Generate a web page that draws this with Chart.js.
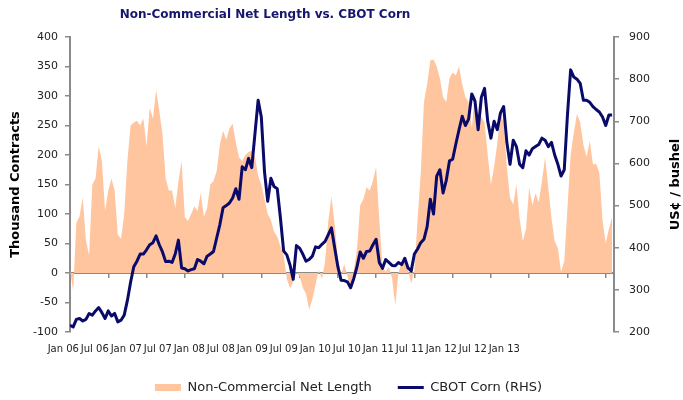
<!DOCTYPE html>
<html>
<head>
<meta charset="utf-8">
<script src="https://cdn.jsdelivr.net/npm/chart.js@4.4.1/dist/chart.umd.min.js"></script>
<style>
  html, body { margin: 0; padding: 0; background: #ffffff; }
  #wrap { width: 683px; height: 400px; position: relative; }
</style>
</head>
<body>
<div id="wrap"><canvas id="c" width="683" height="400"></canvas></div>
<script>
// ---------------- data ----------------
const chartTitle = 'Non-Commercial Net Length vs. CBOT Corn';
const leftAxisTitle = 'Thousand Contracts';
const rightAxisTitle = 'US\u00A2 / bushel';
const seriesNames = ['Non-Commercial Net Length', 'CBOT Corn (RHS)'];
const tickLabels = ['Jan 06', 'Jul 06', 'Jan 07', 'Jul 07', 'Jan 08', 'Jul 08', 'Jan 09', 'Jul 09',
                    'Jan 10', 'Jul 10', 'Jan 11', 'Jul 11', 'Jan 12', 'Jul 12', 'Jan 13'];
// one reading every half month, starting Jan 2006 (x = months since Jan 2006)
const monthsPerPoint = 0.5;
// Non-Commercial Net Length, thousand contracts (left axis)
const netLength = [
  5, -30, 85, 96, 128, 55, 30, 150, 160, 215,
  190, 105, 140, 160, 140, 65, 58, 100, 190, 250,
  255, 258, 250, 262, 215, 280, 262, 310, 275, 235,
  160, 140, 140, 110, 155, 190, 95, 88, 100, 113,
  105, 135, 95, 110, 150, 156, 173, 218, 241, 226,
  245, 253, 222, 196, 190, 200, 205, 207, 198, 165,
  150, 125, 100, 90, 70, 62, 45, 30, -10, -26,
  -15, 0, -5, -25, -35, -62, -45, -20, 5, -10,
  20, 88, 130, 82, 25, -3, 15, -5, -30, 5,
  40, 115, 125, 145, 140, 156, 180, 90, 10, 2,
  10, -9, -55, 0, 18, 20, 5, -18, 5, 90,
  170, 290, 320, 360, 362, 350, 330, 298, 290, 330,
  340, 335, 350, 320, 298, 290, 245, 305, 250, 265,
  255, 200, 150, 180, 220, 270, 255, 180, 127, 116,
  150, 93, 54, 75, 145, 115, 135, 120, 155, 196,
  145, 93, 54, 42, 2, 20, 110, 200, 238, 270,
  255, 218, 196, 224, 184, 185, 170, 90, 50, 75,
  95
];
// CBOT Corn, US cents per bushel (right axis)
const cornPrice = [
  216, 212, 230, 232, 226, 230, 244, 240, 250, 258,
  246, 232, 250, 238, 244, 224, 228, 240, 275, 318,
  355, 368, 385, 385, 395, 407, 412, 428, 407, 390,
  367, 368, 365, 385, 418, 352, 350, 345, 348, 350,
  372, 368, 362, 380, 385, 391, 423, 455, 495, 500,
  506, 518, 540, 515, 592, 585, 612, 590, 670, 750,
  710, 580, 510, 565, 545, 540, 470, 392, 383, 359,
  325, 405, 399, 385, 368, 372, 380, 402, 400, 408,
  415, 431, 447, 400, 355, 323, 322, 319, 305, 327,
  355, 390, 375, 391, 392, 407, 420, 365, 351, 372,
  365, 358, 357, 365, 360, 375, 352, 345, 385, 397,
  412, 420, 450, 515, 480, 570, 585, 530, 560, 606,
  610, 646, 680, 712, 690, 705, 765, 748, 680, 757,
  778, 700, 660, 700, 680, 720, 735, 650, 598, 655,
  640, 598, 590, 630, 620, 635, 640, 645, 660, 655,
  640, 650, 620, 598, 570, 585, 715, 822, 805, 800,
  790, 750, 750, 745, 735, 728, 722, 710, 690, 715,
  715
];

// ---------------- styles ----------------
const AREA_COLOR = 'rgb(255,197,158)';
const LINE_COLOR = '#0a0a6b';
const TITLE_COLOR = '#16166f';
const AXIS_COLOR = '#8a8a8a';
const TEXT_COLOR = '#222222';
const FONT = "'DejaVu Sans', Verdana, sans-serif";
Chart.defaults.font.family = FONT;

// label strip geometry (Excel packs the date labels tightly from the left)
const PLOT_LEFT = 70, PLOT_WIDTH = 544;
const LABEL_FIRST_PX = 63.3, LABEL_STEP_PX = 31.5;
const labelMax = PLOT_WIDTH / LABEL_STEP_PX;
const labelShift = LABEL_FIRST_PX - PLOT_LEFT;

const toPoints = (arr) => arr.map((v, i) => ({ x: i * monthsPerPoint, y: v }));

const extraText = {
  id: 'extraText',
  afterDraw(chart) {
    const ctx = chart.ctx;
    const area = chart.chartArea;
    ctx.save();
    ctx.fillStyle = TITLE_COLOR;
    ctx.font = "bold 12px " + FONT;
    ctx.textAlign = 'center';
    ctx.textBaseline = 'middle';
    ctx.fillText(chartTitle, 265, 15);
    const s = chart.scales.y2;
    ctx.translate(s.left + 62, (area.top + area.bottom) / 2);
    ctx.rotate(-Math.PI / 2);
    ctx.fillStyle = '#000000';
    ctx.font = "bold 13px " + FONT;
    ctx.fillText(rightAxisTitle, 0, 0);
    ctx.restore();
  }
};

new Chart(document.getElementById('c'), {
  type: 'line',
  data: {
    datasets: [
      {
        label: seriesNames[0],
        data: toPoints(netLength),
        xAxisID: 'x', yAxisID: 'y',
        fill: 'origin',
        backgroundColor: AREA_COLOR,
        borderColor: AREA_COLOR,
        borderWidth: 0,
        pointRadius: 0,
        pointStyle: 'rect',
        tension: 0,
        order: 2
      },
      {
        label: seriesNames[1],
        data: toPoints(cornPrice),
        xAxisID: 'x', yAxisID: 'y2',
        fill: false,
        borderColor: LINE_COLOR,
        backgroundColor: LINE_COLOR,
        borderWidth: 3,
        borderJoinStyle: 'round',
        pointRadius: 0,
        pointStyle: 'line',
        tension: 0,
        order: 1
      }
    ]
  },
  options: {
    responsive: false,
    animation: false,
    devicePixelRatio: 1,
    layout: { padding: { top: 37, bottom: -4, left: 14, right: 0 } },
    plugins: {
      title: { display: false },
      tooltip: { enabled: false },
      legend: {
        position: 'bottom',
        labels: {
          usePointStyle: true,
          pointStyleWidth: 26,
          boxHeight: 7,
          padding: 26,
          color: TEXT_COLOR,
          font: { size: 13 },
          sort: (a, b) => a.datasetIndex - b.datasetIndex
        }
      }
    },
    scales: {
      x: {
        type: 'linear',
        position: { y: 0 },
        bounds: 'data',
        min: 0,
        max: 85.3,
        ticks: { display: false, stepSize: 6, includeBounds: false },
        grid: { drawOnChartArea: false, drawTicks: true, tickLength: 4, color: AXIS_COLOR, lineWidth: 1.5 },
        border: { display: true, color: AXIS_COLOR, width: 2 }
      },
      xl: {
        type: 'linear',
        axis: 'x',
        position: 'bottom',
        bounds: 'data',
        min: 0,
        max: labelMax,
        grid: { display: false, drawTicks: false },
        border: { display: false },
        ticks: {
          stepSize: 1,
          maxTicksLimit: 40,
          autoSkip: false,
          maxRotation: 0,
          minRotation: 0,
          includeBounds: false,
          labelOffset: labelShift,
          padding: 11,
          color: TEXT_COLOR,
          font: { size: 10 },
          callback: (v) => (Number.isInteger(v) && v >= 0 && v < tickLabels.length) ? tickLabels[v] : ''
        },
        afterFit: (s) => { s.height = 23; }
      },
      y: {
        type: 'linear',
        position: 'left',
        min: -100,
        max: 400,
        ticks: { stepSize: 50, padding: 7, color: TEXT_COLOR, font: { size: 11 } },
        grid: { drawOnChartArea: false, drawTicks: true, tickLength: 5, color: AXIS_COLOR, lineWidth: 1.5 },
        border: { display: true, color: AXIS_COLOR, width: 2 },
        title: { display: true, text: leftAxisTitle, color: '#000000', font: { size: 13, weight: 'bold' }, padding: { top: -6, bottom: 0 } },
        afterFit: (s) => { s.width = 56; }
      },
      y2: {
        type: 'linear',
        position: 'right',
        min: 200,
        max: 900,
        ticks: { stepSize: 100, padding: 10, color: TEXT_COLOR, font: { size: 11 } },
        grid: { drawOnChartArea: false, drawTicks: true, tickLength: 5, color: AXIS_COLOR, lineWidth: 1.5 },
        border: { display: true, color: AXIS_COLOR, width: 2 },
        afterFit: (s) => { s.width = 69; }
      }
    }
  },
  plugins: [extraText]
});
</script>
</body>
</html>
